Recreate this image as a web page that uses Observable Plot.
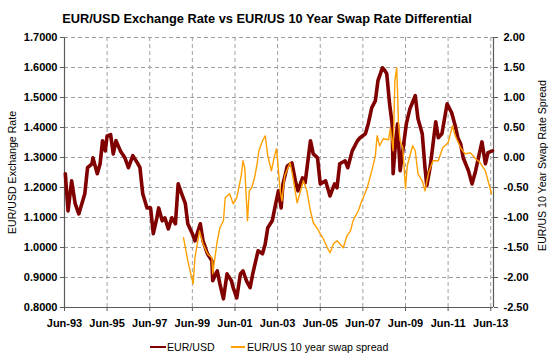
<!DOCTYPE html>
<html>
<head>
<meta charset="utf-8">
<script src="https://cdn.jsdelivr.net/npm/d3@7"></script>
<script src="https://cdn.jsdelivr.net/npm/@observablehq/plot@0.6"></script>
<style>
  html, body { margin: 0; padding: 0; background: #fff; }
  #wrap { position: relative; width: 550px; height: 358px; font-family: "Liberation Sans", Arial, sans-serif; }
  #title { height: 27px; width: 534px; text-align: center; font-weight: bold; font-size: 12.8px; line-height: 14px; box-sizing: border-box; padding-top: 12px; color: #000; }
  #legend { position: relative; height: 25px; font-size: 10.6px; color: #000; }
  #legend .sw { position: absolute; }
  #legend .lb { position: absolute; top: 7px; line-height: 14px; white-space: nowrap; }
  svg { display: block; }
</style>
</head>
<body>
<div id="wrap">
  <div id="title">EUR/USD Exchange Rate vs EUR/US 10 Year Swap Rate Differential</div>
  <div id="chart"></div>
  <div id="legend">
    <div class="sw" style="left:150px;top:12.5px;width:16px;height:2.5px;background:#800000"></div>
    <div class="lb" style="left:167px">EUR/USD</div>
    <div class="sw" style="left:231px;top:13px;width:14px;height:1.6px;background:#ffa000"></div>
    <div class="lb" style="left:247px">EUR/US 10 year swap spread</div>
  </div>
</div>
<script>
// ---- data ----
const eurDates = [
"1993-06-15","1993-08-01","1993-10-01","1993-12-01","1994-02-01","1994-05-15","1994-07-01","1994-09-15","1994-10-01","1994-12-15",
"1995-02-01","1995-03-15","1995-05-01","1995-06-01","1995-08-01","1995-09-15","1995-11-01","1996-01-15","1996-04-01","1996-06-01",
"1996-08-15","1996-11-01","1996-12-15","1997-02-01","1997-04-15","1997-06-15","1997-08-01","1997-10-01","1997-11-01","1998-01-01",
"1998-02-15","1998-04-15","1998-06-15","1998-08-15","1998-10-01","1998-12-01","1999-02-01","1999-03-15","1999-06-01","1999-07-15",
"1999-10-15","1999-12-01","2000-02-15","2000-05-01","2000-05-15","2000-08-01","2000-09-15","2000-11-15","2001-01-15","2001-04-01",
"2001-05-01","2001-07-01","2001-09-01","2001-10-15","2001-12-15","2002-02-15","2002-04-01","2002-07-01","2002-09-15","2002-11-01",
"2002-12-15","2003-03-01","2003-04-15","2003-06-15","2003-08-01","2003-09-01","2003-11-15","2004-02-01","2004-04-01","2004-05-15",
"2004-08-01","2004-09-15","2004-12-15","2005-02-01","2005-04-15","2005-06-01","2005-09-01","2005-11-15","2006-02-01","2006-03-15",
"2006-05-01","2006-08-01","2006-09-15","2006-12-01","2007-03-01","2007-04-15","2007-07-15","2007-09-01","2007-11-01","2008-01-01",
"2008-02-15","2008-05-01","2008-06-15","2008-07-15","2008-09-01","2008-10-15","2008-11-01","2008-12-01","2009-01-15","2009-03-01",
"2009-04-15","2009-06-15","2009-08-15","2009-11-15","2010-01-01","2010-03-15","2010-05-01","2010-06-01","2010-08-01","2010-11-01",
"2010-12-15","2011-02-15","2011-05-15","2011-08-01","2011-10-01","2011-11-15","2012-01-01","2012-02-15","2012-05-15","2012-07-15",
"2012-09-15","2012-11-01","2013-01-01","2013-03-01","2013-04-15","2013-07-01"
];
const eurValues = [
1.246,1.122,1.222,1.146,1.112,1.179,1.266,1.279,1.299,1.246,
1.279,1.356,1.322,1.372,1.376,1.312,1.356,1.322,1.299,1.266,
1.306,1.282,1.266,1.179,1.132,1.132,1.046,1.099,1.132,1.089,
1.099,1.062,1.099,1.079,1.212,1.179,1.146,1.079,1.046,1.022,
1.079,1.022,0.979,0.956,0.889,0.922,0.879,0.829,0.912,0.889,
0.866,0.832,0.912,0.922,0.889,0.866,0.912,0.989,0.979,1.012,
1.066,1.089,1.132,1.189,1.132,1.212,1.272,1.282,1.222,1.189,
1.232,1.216,1.356,1.312,1.299,1.212,1.222,1.172,1.212,1.199,
1.279,1.289,1.266,1.322,1.356,1.366,1.379,1.412,1.466,1.489,
1.556,1.599,1.589,1.579,1.479,1.412,1.246,1.322,1.412,1.256,
1.322,1.412,1.462,1.506,1.429,1.379,1.266,1.206,1.272,1.419,
1.366,1.379,1.479,1.449,1.406,1.366,1.346,1.299,1.256,1.212,
1.256,1.299,1.352,1.279,1.316,1.322
];
const spreadDates = [
"1999-01-01","1999-03-15","1999-06-15","1999-07-15","1999-10-01","1999-12-01","2000-02-15","2000-05-01","2000-05-15","2000-08-01",
"2000-09-15","2000-11-15","2000-12-15","2001-03-01","2001-05-01","2001-07-01","2001-09-15","2001-10-15","2001-11-15","2002-01-01",
"2002-02-01","2002-03-15","2002-05-01","2002-06-15","2002-07-15","2002-09-15","2002-11-01","2002-12-15","2003-02-15","2003-04-01",
"2003-05-15","2003-07-15","2003-08-15","2003-10-01","2004-01-01","2004-02-15","2004-05-01","2004-06-15","2004-08-15","2004-10-15",
"2004-12-15","2005-02-01","2005-04-15","2005-06-01","2005-07-15","2005-10-01","2005-11-15","2006-01-15","2006-03-15","2006-05-01",
"2006-07-01","2006-09-01","2006-11-01","2006-12-15","2007-03-15","2007-05-15","2007-08-15","2007-11-01","2008-01-01","2008-02-01",
"2008-03-15","2008-05-15","2008-08-15","2008-09-15","2008-11-01","2008-12-01","2009-01-01","2009-01-15","2009-02-01","2009-03-01",
"2009-04-15","2009-06-01","2009-07-01","2009-10-01","2009-11-15","2010-01-01","2010-03-15","2010-05-01","2010-07-01","2010-09-15",
"2010-12-15","2011-03-01","2011-06-01","2011-08-15","2011-10-01","2012-01-01","2012-03-15","2012-06-15","2012-09-15","2012-12-01",
"2013-03-01","2013-04-15","2013-06-15"
];
const spreadValues = [
-1.338,-1.722,-2.105,-1.672,-1.222,-1.438,-1.605,-1.672,-1.938,-1.388,
-1.172,-1.055,-0.672,-0.605,-0.772,-0.672,-0.305,-0.055,-0.172,-1.055,
-0.555,-0.505,-0.338,-0.105,0.112,0.278,0.362,0.028,-0.222,-0.005,
0.145,-0.555,-0.722,-0.305,-0.088,-0.305,-0.755,-0.605,-0.388,-0.555,
-0.888,-1.088,-1.188,-1.272,-1.338,-1.505,-1.588,-1.438,-1.388,-1.438,
-1.505,-1.305,-1.222,-1.055,-0.888,-0.722,-0.505,-0.222,0.028,0.362,
0.195,0.312,0.295,0.495,0.112,1.278,1.495,1.112,0.562,0.278,
0.162,-0.522,-0.138,0.195,0.112,-0.272,-0.388,-0.555,-0.255,-0.055,
-0.055,0.162,0.245,0.528,0.362,0.162,0.062,0.078,-0.022,-0.088,
-0.222,-0.388,-0.605
];
const leftTicks = [0.8, 0.9, 1.0, 1.1, 1.2, 1.3, 1.4, 1.5, 1.6, 1.7];
const rightTicks = [-2.5, -2.0, -1.5, -1.0, -0.5, 0.0, 0.5, 1.0, 1.5, 2.0];
const xTickDates = ["1993-06-01","1995-06-01","1997-06-01","1999-06-01","2001-06-01","2003-06-01","2005-06-01","2007-06-01","2009-06-01","2011-06-01","2013-06-01"];
const xDomain = ["1993-06-01", "2013-07-18"];
const leftTitle = "EUR/USD Exchange Rate";
const rightTitle = "EUR/US 10 Year Swap Rate Spread";

// ---- build ----
const parse = d3.utcParse("%Y-%m-%d");
const [yMin, yMax] = [leftTicks[0], leftTicks[leftTicks.length - 1]];
const [sMin, sMax] = [rightTicks[0], rightTicks[rightTicks.length - 1]];
const toLeft = s => yMin + (s - sMin) * (yMax - yMin) / (sMax - sMin);
const fromLeft = y => sMin + (y - yMin) * (sMax - sMin) / (yMax - yMin);

const eur = eurDates.map((d, i) => ({date: parse(d), v: eurValues[i]}));
const spread = spreadDates.map((d, i) => ({date: parse(d), v: toLeft(spreadValues[i])}));
const xTicks = xTickDates.map(parse);
const xd = xDomain.map(parse);

const axisColor = "#5a5a5a";
const gridColor = "#a0a0a0";

const chart = Plot.plot({
  width: 550,
  height: 306,
  marginTop: 10,
  marginBottom: 26,
  marginLeft: 64,
  marginRight: 57,
  style: {fontFamily: "'Liberation Sans', Arial, sans-serif", fontSize: "11px", color: "#000", background: "#fff"},
  x: {type: "utc", domain: xd},
  y: {domain: [yMin, yMax]},
  marks: [
    Plot.gridY(leftTicks, {stroke: gridColor, strokeOpacity: 1, strokeDasharray: "4,3"}),
    Plot.gridX(xTicks, {stroke: gridColor, strokeOpacity: 1, strokeDasharray: "4,3"}),
    Plot.ruleX([xd[0]], {stroke: axisColor, strokeWidth: 1.2}),
    Plot.ruleX([xd[1]], {stroke: axisColor, strokeWidth: 1.2}),
    Plot.ruleY([yMin], {stroke: axisColor, strokeWidth: 1.2}),
    Plot.axisY(leftTicks, {anchor: "left", tickSize: 4, tickPadding: 3, stroke: axisColor, fontWeight: "bold", tickFormat: d => d.toFixed(4), label: null}),
    Plot.axisY(rightTicks.map(toLeft), {anchor: "right", tickSize: 4, tickPadding: 6, stroke: axisColor, fontWeight: "bold", tickFormat: y => {const s = fromLeft(y); return (Math.abs(s) < 1e-9 ? 0 : s).toFixed(2);}, label: null}),
    Plot.axisX(xTicks, {anchor: "bottom", tickSize: 4, tickPadding: 8, stroke: axisColor, fontWeight: "bold", tickFormat: d3.utcFormat("%b-%y"), label: null}),
    Plot.text([leftTitle], {frameAnchor: "left", rotate: -90, dx: -52, fontSize: 10.6, textAnchor: "middle"}),
    Plot.text([rightTitle], {frameAnchor: "right", rotate: -90, dx: 49, dy: -7, fontSize: 10.6, textAnchor: "middle"}),
    Plot.line(eur, {x: "date", y: "v", stroke: "#800000", strokeWidth: 3.6, strokeLinejoin: "round"}),
    Plot.line(spread, {x: "date", y: "v", stroke: "#ffa000", strokeWidth: 1.4, strokeLinejoin: "round"})
  ]
});
document.getElementById("chart").appendChild(chart);
</script>
</body>
</html>
